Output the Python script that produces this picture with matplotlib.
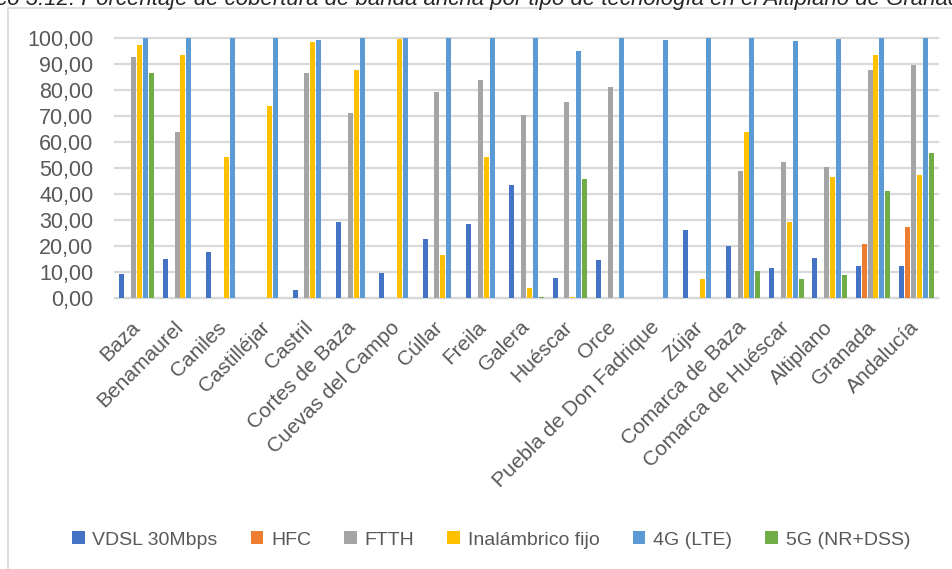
import numpy as np
import matplotlib.pyplot as plt
from matplotlib.patches import Rectangle

plt.rcParams['font.family'] = ['Liberation Sans', 'DejaVu Sans']

zonas = ['Baza', 'Benamaurel', 'Caniles', 'Castilléjar', 'Castril', 'Cortes de Baza',
         'Cuevas del Campo', 'Cúllar', 'Freila', 'Galera', 'Huéscar', 'Orce',
         'Puebla de Don Fadrique', 'Zújar', 'Comarca de Baza', 'Comarca de Huéscar',
         'Altiplano', 'Granada', 'Andalucía']

vdsl  = [9.3, 15.1, 17.8, 0, 3.2, 29.3, 9.7, 22.8, 28.5, 43.5, 7.8, 14.7, 0, 26.2, 20.1, 11.6, 15.5, 12.4, 12.4]
hfc   = [0, 0, 0, 0, 0, 0, 0, 0, 0, 0, 0, 0, 0, 0, 0, 0, 0, 20.9, 27.4]
ftth  = [92.6, 63.8, 0, 0, 86.4, 71.1, 0, 79.2, 83.8, 70.3, 75.3, 81.1, 0, 0, 48.9, 52.3, 50.4, 87.6, 89.5]
inal  = [97.2, 93.4, 54.2, 73.8, 98.3, 87.6, 99.5, 16.6, 54.2, 4.0, 0.3, 0, 0, 7.4, 63.8, 29.3, 46.5, 93.4, 47.3]
lte   = [100, 100, 100, 100, 99.1, 100, 100, 100, 100, 100, 94.9, 100, 99.1, 100, 100, 98.7, 99.5, 100, 100]
nr5g  = [86.4, 0, 0, 0, 0, 0, 0, 0, 0, 0.3, 45.8, 0, 0, 0, 10.5, 7.4, 8.9, 41.2, 55.8]

series = [('VDSL 30Mbps', vdsl, '#4472C4'),
          ('HFC', hfc, '#ED7D31'),
          ('FTTH', ftth, '#A5A5A5'),
          ('Inalámbrico fijo', inal, '#FFC000'),
          ('4G (LTE)', lte, '#5B9BD5'),
          ('5G (NR+DSS)', nr5g, '#70AD47')]

W, H = 952, 569
fig = plt.figure(figsize=(W / 100, H / 100), dpi=100)
ax = fig.add_axes([115 / W, 1 - 298 / H, (938 - 115) / W, (298 - 37.7) / H])

x = np.arange(len(zonas))
step = 0.136
width = 0.115
for k, (name, vals, col) in enumerate(series):
    ax.bar(x + (k - 2.5) * step, vals, width=width, color=col, label=name, zorder=3)

ax.set_xlim(-0.5, len(zonas) - 0.5)
ax.set_ylim(0, 100)
ax.set_yticks(np.arange(0, 101, 10))
ax.set_yticklabels([f'{v:.2f}'.replace('.', ',') for v in np.arange(0, 101, 10)])
ax.set_xticks(x)
ax.set_xticklabels(zonas, rotation=45, ha='right', va='center', rotation_mode='anchor')
ax.tick_params(axis='y', length=0, pad=15.5, labelsize=15.5, labelcolor='#595959')
ax.tick_params(axis='x', length=0, pad=19, labelsize=15, labelcolor='#595959')
ax.yaxis.grid(True, color='#d9d9d9', linewidth=1.6, zorder=0)
ax.set_axisbelow(True)
for s in ['top', 'right', 'left']:
    ax.spines[s].set_visible(False)
ax.spines['bottom'].set_color('#d9d9d9')
ax.spines['bottom'].set_linewidth(1.6)
for gl in ax.get_ygridlines():
    gl.set_clip_on(False)

fig.legend(loc='center', bbox_to_anchor=(491 / W, 1 - 540 / H), ncol=6, frameon=False,
           fontsize=14, handlelength=0.65, handleheight=0.65, handletextpad=0.4,
           columnspacing=1.7, labelcolor='#595959')

# chart frame
fig.patches.append(Rectangle((8 / W, -0.1), 1.2, 1.1 - 8 / H, transform=fig.transFigure,
                             fill=False, edgecolor='#d9d9d9', linewidth=1.2))

fig.text(-52 / W, 1 - 4.5 / H,
         'Gráfico 3.12. Porcentaje de cobertura de banda ancha por tipo de tecnología en el Altiplano de Granada',
         ha='left', va='baseline', fontsize=16, style='italic', color='#262626')

fig.savefig('out.png', dpi=100)
